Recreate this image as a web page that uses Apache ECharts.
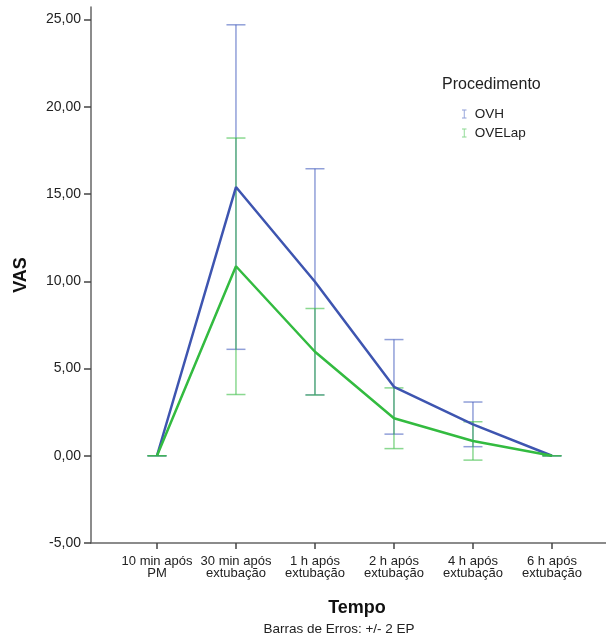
<!DOCTYPE html>
<html><head><meta charset="utf-8">
<script src="https://cdn.jsdelivr.net/npm/echarts@6/dist/echarts.min.js"></script>
<style>html,body{margin:0;padding:0;background:#fff}#c{width:606px;height:637px}</style>
</head><body><div id="c"></div>
<script>
const categories = ['10 min após\nPM', '30 min após\nextubação', '1 h após\nextubação', '2 h após\nextubação', '4 h após\nextubação', '6 h após\nextubação'];
const ovhMean = [0, 15.4, 9.97, 3.95, 1.8, 0];
const ovhErr = [0, 9.3, 6.48, 2.71, 1.28, 0];
const ovelapMean = [0, 10.86, 5.96, 2.15, 0.85, 0];
const ovelapErr = [0, 7.35, 2.48, 1.74, 1.1, 0];
const yTicks = [-5, 0, 5, 10, 15, 20, 25];

const blue = '#3e55b0', green = '#33bb40';
const blueErr = 'rgba(70,95,190,0.6)', greenErr = 'rgba(60,190,70,0.6)';

function errData(mean, err) { return mean.map((m, i) => [i, m - err[i], m + err[i]]); }
function errSeries(name, mean, err, color, z) {
  return {
    type: 'custom', name: name + ' err', z: z, silent: true,
    data: errData(mean, err),
    renderItem: function (params, api) {
      const x = api.value(0);
      const lo = api.coord([x, api.value(1)]);
      const hi = api.coord([x, api.value(2)]);
      const w = 9.5;
      const st = { stroke: color, lineWidth: 1.5 };
      return { type: 'group', children: [
        { type: 'line', shape: { x1: lo[0], y1: lo[1], x2: hi[0], y2: hi[1] }, style: st },
        { type: 'line', shape: { x1: lo[0] - w, y1: lo[1], x2: lo[0] + w, y2: lo[1] }, style: st },
        { type: 'line', shape: { x1: hi[0] - w, y1: hi[1], x2: hi[0] + w, y2: hi[1] }, style: st }
      ]};
    }
  };
}
const ibeam = 'path://M0,0 H10 V2 H6 V18 H10 V20 H0 V18 H4 V2 H0 Z';
const font = 'Liberation Sans, Arial, sans-serif';
const chart = echarts.init(document.getElementById('c'), null, { renderer: 'canvas' });
chart.setOption({
  animation: false,
  textStyle: { fontFamily: font },
  grid: { left: 91, right: 0, top: 7, bottom: 94 },
  title: [
    { text: 'Procedimento', left: 437, top: 72, textStyle: { fontFamily: font, fontSize: 16, fontWeight: 'normal', color: '#222' } },
    { text: 'Tempo', left: 352, top: 594, textAlign: 'center', textStyle: { fontFamily: font, fontSize: 18, fontWeight: 'bold', color: '#111' } },
    { text: 'Barras de Erros: +/- 2 EP', left: 334, top: 617, textAlign: 'center', textStyle: { fontFamily: font, fontSize: 13.5, fontWeight: 'normal', color: '#222' } }
  ],
  legend: {
    orient: 'vertical', left: 457, top: 102, itemWidth: 5, itemHeight: 9, itemGap: 5,
    textStyle: { fontFamily: font, fontSize: 13.5, color: '#222', padding: [0, 0, 0, 3] },
    data: [ { name: 'OVH', icon: ibeam, itemStyle: { color: blueErr } }, { name: 'OVELap', icon: ibeam, itemStyle: { color: greenErr } } ]
  },
  xAxis: {
    type: 'value', min: -0.835, max: 5.684,
    axisLine: { show: true, onZero: false, lineStyle: { color: '#666', width: 1.5 } },
    axisTick: { show: true, customValues: [0, 1, 2, 3, 4, 5], length: 6, lineStyle: { color: '#444', width: 1.5 } },
    axisLabel: { customValues: [0, 1, 2, 3, 4, 5], formatter: v => categories[Math.round(v)] || '', color: '#222', fontSize: 13, lineHeight: 11.5, margin: 13, fontFamily: font },
    splitLine: { show: false }
  },
  yAxis: {
    type: 'value', min: -5, max: 25.72,
    name: 'VAS', nameLocation: 'middle', nameGap: 61, nameRotate: 90,
    nameTextStyle: { fontFamily: font, fontSize: 18, fontWeight: 'bold', color: '#111' },
    axisLine: { show: true, onZero: false, lineStyle: { color: '#666', width: 1.5 } },
    axisTick: { show: true, customValues: yTicks, length: 7, lineStyle: { color: '#444', width: 1.5 } },
    axisLabel: { customValues: yTicks, formatter: v => v.toFixed(2).replace('.', ','), color: '#222', fontSize: 14, margin: 10, fontFamily: font },
    splitLine: { show: false }
  },
  series: [
    errSeries('OVH', ovhMean, ovhErr, blueErr, 1),
    errSeries('OVELap', ovelapMean, ovelapErr, greenErr, 2),
    { type: 'line', name: 'OVH', z: 3, data: ovhMean.map((v, i) => [i, v]), showSymbol: false, symbol: 'none', lineStyle: { color: blue, width: 2.5 }, itemStyle: { color: blue } },
    { type: 'line', name: 'OVELap', z: 4, data: ovelapMean.map((v, i) => [i, v]), showSymbol: false, symbol: 'none', lineStyle: { color: green, width: 2.5 }, itemStyle: { color: green } }
  ]
});
</script></body></html>
